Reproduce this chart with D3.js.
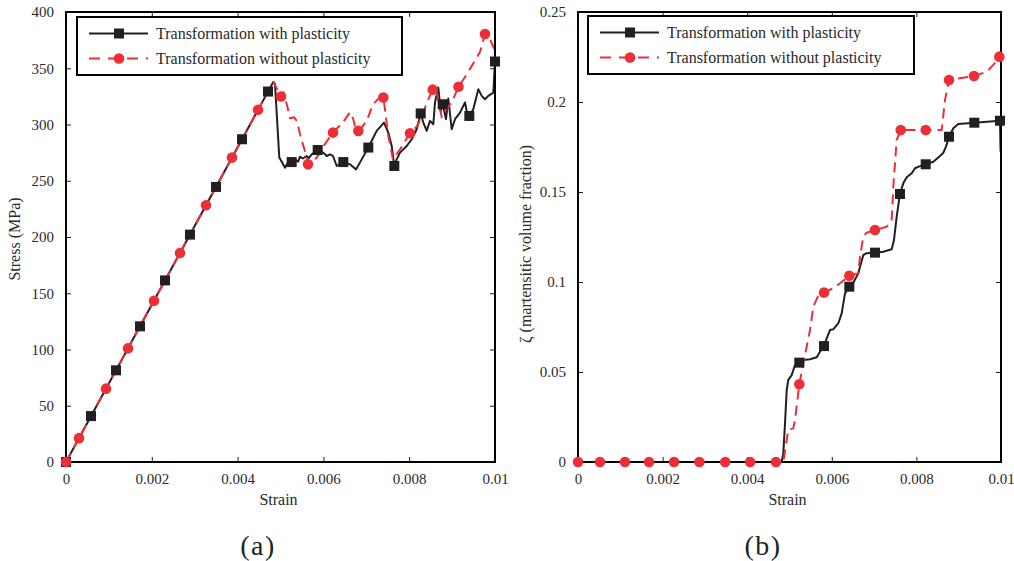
<!DOCTYPE html>
<html>
<head>
<meta charset="utf-8">
<script src="https://cdn.jsdelivr.net/npm/d3@7"></script>
<style>
  body { margin: 0; background: #fff; }
  svg { display: block; font-family: "Liberation Serif", "Times New Roman", serif; }
</style>
</head>
<body>
<svg id="fig" width="1014" height="561"></svg>
<script>
// ---- data -------------------------------------------------------------
const seriesNames = ["Transformation with plasticity", "Transformation without plasticity"];
const strainTicks = [0, 0.002, 0.004, 0.006, 0.008, 0.01];
const stressTicks = [0, 50, 100, 150, 200, 250, 300, 350, 400];
const fractionTicks = [0, 0.05, 0.1, 0.15, 0.2, 0.25];

// (a) stress-strain, [strain, stress in MPa]
const stressWithPlasticity = [
  [0, 0], [0.004832, 337.9], [0.004872, 335.9], [0.004972, 270.6], [0.005035, 266.4],
  [0.005105, 261.6], [0.005175, 266.4], [0.005261, 266.6], [0.00535, 268.5], [0.00541, 267.0],
  [0.005455, 271.4], [0.00552, 269.8], [0.005611, 272.0], [0.00566, 270.2], [0.005727, 273.5],
  [0.005867, 277.3], [0.005998, 275.0], [0.006077, 272.0], [0.006154, 273.5], [0.006224, 272.0],
  [0.00631, 263.1], [0.006464, 266.6], [0.00662, 264.6], [0.00676, 260.1], [0.006893, 269.0],
  [0.007047, 279.5], [0.007242, 294.3], [0.007413, 301.7], [0.007513, 292.8], [0.007592, 280.9],
  [0.007653, 263.1], [0.007709, 269.0], [0.007786, 275.0], [0.007942, 280.9], [0.008058, 286.9],
  [0.008175, 295.8], [0.008268, 309.8], [0.008329, 301.7], [0.008408, 294.3], [0.008485, 303.2],
  [0.008562, 300.2], [0.008601, 319.6], [0.008678, 332.9], [0.008734, 312.1], [0.008781, 318.0],
  [0.008858, 304.7], [0.008911, 323.1], [0.008991, 295.8], [0.009068, 304.7], [0.009184, 310.6],
  [0.009301, 319.6], [0.00934, 312.1], [0.009401, 307.6], [0.009494, 313.6], [0.009611, 331.4],
  [0.00969, 325.4], [0.009767, 322.4], [0.009844, 325.4], [0.00996, 328.4], [0.01, 356.0]
];
const stressWithPlasticityMarks = [
  [0, 0], [0.000583, 40.8], [0.001166, 81.5], [0.001725, 120.6], [0.002308, 161.4],
  [0.00289, 202.1], [0.003497, 244.5], [0.004103, 286.9], [0.004709, 329.3], [0.005261, 266.6],
  [0.005867, 277.3], [0.006464, 266.6], [0.007047, 279.5], [0.007653, 263.1], [0.008268, 309.8],
  [0.008781, 318.0], [0.009401, 307.6], [0.01, 356.0]
];
const stressWithoutPlasticity = [
  [0, 0], [0.004832, 337.9], [0.005012, 324.9], [0.00507, 328.7], [0.005152, 317.1],
  [0.005221, 305.6], [0.005315, 306.5], [0.005385, 302.9], [0.005478, 287.8], [0.005571, 276.2],
  [0.005641, 264.6], [0.005758, 266.4], [0.005897, 273.5], [0.006014, 281.5], [0.006224, 292.8],
  [0.006457, 302.0], [0.00662, 310.9], [0.00669, 305.6], [0.006737, 298.4], [0.006814, 294.3],
  [0.0069, 297.6], [0.007016, 303.8], [0.007156, 318.0], [0.007319, 324.3], [0.007396, 324.0],
  [0.007436, 313.5], [0.007506, 291.3], [0.007622, 269.0], [0.007786, 277.9], [0.008019, 292.2],
  [0.008182, 298.4], [0.008298, 307.3], [0.008415, 319.8], [0.008548, 331.0], [0.008648, 327.8],
  [0.008718, 313.5], [0.008758, 306.5], [0.008811, 310.9], [0.008998, 319.8], [0.009149, 333.6],
  [0.009347, 344.8], [0.00965, 364.4], [0.009767, 380.4], [0.009883, 375.9], [0.009984, 367.0]
];
const stressWithoutPlasticityMarks = [
  [0, 0], [0.000303, 21.2], [0.000932, 65.2], [0.001445, 101.0], [0.002051, 143.4],
  [0.002657, 185.8], [0.003263, 228.2], [0.003869, 270.6], [0.004476, 313.0], [0.005012, 324.9],
  [0.005641, 264.6], [0.006224, 292.8], [0.006814, 294.3], [0.007396, 324.0], [0.008019, 292.2],
  [0.008548, 331.0], [0.009149, 333.6], [0.009767, 380.4]
];

// (b) martensitic volume fraction, [strain, zeta]
const zetaWithPlasticity = [
  [0, 0], [0.004816, 0], [0.004853, 0.0048], [0.004894, 0.0215], [0.004934, 0.040],
  [0.004972, 0.0456], [0.005052, 0.0483], [0.00513, 0.0539], [0.005232, 0.0552], [0.005326, 0.0567],
  [0.005485, 0.0571], [0.005643, 0.0582], [0.005721, 0.0613], [0.005816, 0.0644], [0.00588, 0.0687],
  [0.005957, 0.0733], [0.006035, 0.0737], [0.006154, 0.0771], [0.006234, 0.0826], [0.006312, 0.0937],
  [0.006414, 0.0974], [0.006508, 0.0996], [0.006626, 0.1048], [0.006745, 0.115], [0.006825, 0.116],
  [0.007021, 0.1163], [0.007217, 0.1168], [0.007416, 0.1182], [0.00747, 0.1233], [0.007534, 0.1363],
  [0.007612, 0.1489], [0.00769, 0.1548], [0.007771, 0.1582], [0.007889, 0.1604], [0.007967, 0.1632],
  [0.008085, 0.1644], [0.00822, 0.1654], [0.0084, 0.1668], [0.008558, 0.170], [0.008636, 0.1718],
  [0.0087, 0.1752], [0.008771, 0.1807], [0.008872, 0.1854], [0.008991, 0.1878], [0.009369, 0.1885],
  [0.009976, 0.1896], [0.00999, 0.1724]
];
const zetaWithPlasticityMarks = [
  [0.005232, 0.0552], [0.005816, 0.0644], [0.006414, 0.0974], [0.007021, 0.1163], [0.007612, 0.1489],
  [0.00822, 0.1654], [0.008771, 0.1807], [0.009369, 0.1885], [0.009976, 0.1896]
];
const zetaWithoutPlasticity = [
  [0, 0], [0.004853, 0], [0.004934, 0.0122], [0.004972, 0.0178], [0.00509, 0.0187],
  [0.00513, 0.0233], [0.005232, 0.0432], [0.005326, 0.0548], [0.005485, 0.0733], [0.005563, 0.0863],
  [0.005674, 0.0922], [0.005816, 0.0941], [0.006035, 0.0965], [0.006194, 0.0993], [0.006414, 0.1035],
  [0.006626, 0.1048], [0.006667, 0.1141], [0.006745, 0.1252], [0.006825, 0.1274], [0.007021, 0.1289],
  [0.007298, 0.1307], [0.007416, 0.1344], [0.007454, 0.1529], [0.007534, 0.1789], [0.007629, 0.1844],
  [0.00822, 0.1844], [0.008598, 0.1844], [0.008676, 0.2011], [0.008771, 0.2122], [0.009362, 0.2144],
  [0.009662, 0.2168], [0.009818, 0.2206], [0.00996, 0.2252]
];
const zetaWithoutPlasticityMarks = [
  [0, 0], [0.00052, 0], [0.00111, 0], [0.00168, 0], [0.00227, 0], [0.00287, 0], [0.00348, 0],
  [0.00407, 0], [0.00468, 0], [0.005232, 0.0432], [0.005816, 0.0941], [0.006414, 0.1035],
  [0.007021, 0.1289], [0.007629, 0.1844], [0.00822, 0.1844], [0.008771, 0.2122], [0.009362, 0.2144],
  [0.00996, 0.2252]
];

// ---- styles -----------------------------------------------------------
const BLACK = "#231f20";
const RED = "#ec2f36";

const svg = d3.select("#fig");

function drawPanel(cfg) {
  const { left, right, top, bottom } = cfg.box;
  const x = d3.scaleLinear().domain([0, 0.01]).range([left, right]);
  const y = d3.scaleLinear().domain(cfg.yDomain).range([bottom, top]);
  const g = svg.append("g");
  const line = d3.line().x(d => x(d[0])).y(d => y(d[1]));

  // curves
  g.append("path").datum(cfg.black).attr("d", line)
    .attr("fill", "none").attr("stroke", BLACK).attr("stroke-width", 2)
    .attr("stroke-linejoin", "round");
  g.append("path").datum(cfg.red).attr("d", line)
    .attr("fill", "none").attr("stroke", RED).attr("stroke-width", 2)
    .attr("stroke-dasharray", "10,6").attr("stroke-linejoin", "round");

  // ticks pointing inward on all four sides, via d3 axes
  const tickFmt = d => d === 0 ? "0" : String(d);
  const axB = g.append("g").attr("transform", `translate(0,${bottom})`)
    .call(d3.axisBottom(x).tickValues(strainTicks).tickFormat(tickFmt).tickSizeInner(-5).tickSizeOuter(0).tickPadding(11));
  const axT = g.append("g").attr("transform", `translate(0,${top})`)
    .call(d3.axisTop(x).tickValues(strainTicks).tickFormat("").tickSizeInner(-5).tickSizeOuter(0));
  const axL = g.append("g").attr("transform", `translate(${left},0)`)
    .call(d3.axisLeft(y).tickValues(cfg.yTicks).tickFormat(tickFmt).tickSizeInner(-5).tickSizeOuter(0).tickPadding(12));
  const axR = g.append("g").attr("transform", `translate(${right},0)`)
    .call(d3.axisRight(y).tickValues(cfg.yTicks).tickFormat("").tickSizeInner(-5).tickSizeOuter(0));
  [axB, axT, axL, axR].forEach(a => {
    a.select(".domain").remove();
    a.selectAll(".tick line").attr("stroke", BLACK).attr("stroke-width", 1);
    a.selectAll("text").attr("font-family", "Liberation Serif, serif").attr("font-size", 15).attr("fill", "#2a2a2a");
  });

  // frame
  g.append("rect").attr("x", left).attr("y", top)
    .attr("width", right - left).attr("height", bottom - top)
    .attr("fill", "none").attr("stroke", "#000").attr("stroke-width", 2);

  // markers
  const sq = 10;
  g.selectAll(".sq").data(cfg.blackMarks).enter().append("rect")
    .attr("x", d => x(d[0]) - sq / 2).attr("y", d => y(d[1]) - sq / 2)
    .attr("width", sq).attr("height", sq).attr("fill", BLACK);
  g.selectAll(".dot").data(cfg.redMarks).enter().append("circle")
    .attr("cx", d => x(d[0])).attr("cy", d => y(d[1])).attr("r", 5.3).attr("fill", RED);

  // axis titles
  g.append("text").attr("x", (left + right) / 2 - 2).attr("y", 505)
    .attr("text-anchor", "middle").attr("font-size", 16).attr("fill", "#2a2a2a").text("Strain");
  g.append("text").attr("transform", `translate(${cfg.yLabelX},${cfg.yLabelY}) rotate(-90)`)
    .attr("text-anchor", "middle").attr("font-size", 16).attr("fill", "#2a2a2a").text(cfg.yLabel);

  // panel tag
  g.append("text").attr("x", cfg.tagX).attr("y", 555)
    .attr("text-anchor", "middle").attr("font-size", 28).attr("letter-spacing", 1.5)
    .attr("fill", "#222").text(cfg.tag);

  // legend
  const L = cfg.legend;
  const lg = g.append("g");
  lg.append("rect").attr("x", L.x).attr("y", L.y).attr("width", L.w).attr("height", L.h)
    .attr("fill", "#fff").attr("stroke", "#000").attr("stroke-width", 2);
  const rows = [
    { color: BLACK, dash: null, mark: "square", name: seriesNames[0], dy: 16.5 },
    { color: RED, dash: "10,6", mark: "circle", name: seriesNames[1], dy: 41.5 }
  ];
  rows.forEach(r => {
    const yy = L.y + r.dy;
    const ln = lg.append("line").attr("x1", L.x + 12).attr("x2", L.x + 71)
      .attr("y1", yy).attr("y2", yy).attr("stroke", r.color).attr("stroke-width", 2);
    if (r.dash) ln.attr("stroke-dasharray", "11,8").attr("x1", L.x + 12);
    const mx = L.x + 42;
    if (r.mark === "square") {
      lg.append("rect").attr("x", mx - sq / 2).attr("y", yy - sq / 2).attr("width", sq).attr("height", sq).attr("fill", r.color);
    } else {
      lg.append("circle").attr("cx", mx).attr("cy", yy).attr("r", 5.3).attr("fill", r.color);
    }
    lg.append("text").attr("x", L.x + 79).attr("y", yy + 5).attr("font-size", 16)
      .attr("fill", "#2a2a2a").text(r.name);
  });
}

drawPanel({
  box: { left: 66, right: 495, top: 12, bottom: 462 },
  yDomain: [0, 400], yTicks: stressTicks,
  black: stressWithPlasticity, blackMarks: stressWithPlasticityMarks,
  red: stressWithoutPlasticity, redMarks: stressWithoutPlasticityMarks,
  yLabel: "Stress (MPa)", yLabelX: 20, yLabelY: 239,
  tag: "(a)", tagX: 258,
  legend: { x: 77, y: 17, w: 325, h: 58 }
});

drawPanel({
  box: { left: 578, right: 1001, top: 12, bottom: 462 },
  yDomain: [0, 0.25], yTicks: fractionTicks,
  black: zetaWithPlasticity, blackMarks: zetaWithPlasticityMarks,
  red: zetaWithoutPlasticity, redMarks: zetaWithoutPlasticityMarks,
  yLabel: "ζ (martensitic volume fraction)", yLabelX: 531, yLabelY: 244,
  tag: "(b)", tagX: 763,
  legend: { x: 588, y: 16, w: 326, h: 58 }
});
</script>
</body>
</html>
